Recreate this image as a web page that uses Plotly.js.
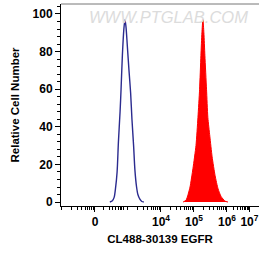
<!DOCTYPE html>
<html><head><meta charset="utf-8">
<script src="https://cdn.plot.ly/plotly-3.0.1.min.js"></script>
<style>html,body{margin:0;padding:0;background:#fff}#c{width:259px;height:260px}</style>
</head><body><div id="c"></div>
<script>
// Display units: 0 -> 0, one decade ≈ 1 unit (biexponential-like scale)
const blueX = [0.45,0.52,0.58,0.62,0.67,0.71,0.76,0.79,0.83,0.88,0.91,0.94,0.98,1.03,1.08,1.12,1.17,1.21,1.26,1.30,1.36,1.42,1.48];
const blueY = [0,0.5,2.5,7,16,32,48,60,78,93,97,93,83,70,58,44,30,17,8,4,1.5,0.3,0];
const redX = [2.67,2.76,2.82,2.88,2.97,3.06,3.12,3.17,3.21,3.24,3.27,3.30,3.33,3.38,3.42,3.48,3.55,3.64,3.73,3.82,3.94,4.03];
const redY = [0,1,4,8,18,30,45,60,78,90,97,90,78,60,45,35,24,14,7,3,0.5,0];
const tickVals = [0,2,3,4,4.68];
const tickText = ['0','10<sup>4</sup>','10<sup>5</sup>','10<sup>6</sup>','10<sup>7</sup>'];
const yTicks = [0,20,40,60,80,100];

const minor = [];
for (let m=2;m<=9;m++){ minor.push(-1+Math.log10(m)); minor.push(Math.log10(m)*0.9); minor.push(1+Math.log10(m)); minor.push(2+Math.log10(m)); minor.push(3+Math.log10(m)); minor.push(4+Math.log10(m)*0.68); }
minor.push(-1,1);

const font = 'Liberation Sans, Arial, sans-serif';
const traces = [
  {x: redX, y: redY, type:'scatter', mode:'lines', line:{color:'#ff0000', width:1, shape:'spline', smoothing:0.6}, fill:'tozeroy', fillcolor:'#ff0000', hoverinfo:'skip'},
  {x: blueX, y: blueY, type:'scatter', mode:'lines', line:{color:'#2b2b8f', width:1.4, shape:'spline', smoothing:0.8}, hoverinfo:'skip'},
  {x: [0], y: [0], xaxis:'x2', type:'scatter', mode:'markers', marker:{opacity:0}, hoverinfo:'skip'}
];
const layout = {
  width:259, height:260,
  margin:{l:61, r:0, t:4, b:54},
  paper_bgcolor:'#fff', plot_bgcolor:'#fff',
  showlegend:false,
  font:{family:font, color:'#000'},
  xaxis:{range:[-1.03,4.97], tickmode:'array', tickvals:tickVals, ticktext:tickText,
    ticks:'outside', ticklen:5, tickwidth:1, tickcolor:'#000', ticklabeloverflow:'allow',
    showline:true, linecolor:'#000', linewidth:1, showgrid:false, zeroline:false,
    tickfont:{family:font, size:12, color:'#000', weight:'bold'},
    title:{text:'<b>CL488-30139 EGFR</b>', font:{family:font, size:11.5, color:'#000'}, standoff:6}},
  xaxis2:{range:[-1.03,4.97], overlaying:'x', side:'bottom', anchor:'y', tickmode:'array', tickvals:minor,
    ticks:'outside', ticklen:3, tickwidth:1, tickcolor:'#000', showticklabels:false, showgrid:false, zeroline:false, showline:false},
  yaxis:{range:[-2.1,105.3], tickmode:'array', tickvals:yTicks,
    ticks:'outside', ticklen:5, tickwidth:1, tickcolor:'#000',
    minor:{dtick:4, ticklen:3, ticks:'outside', tickcolor:'#000', showgrid:false},
    showline:true, linecolor:'#000', linewidth:1, showgrid:false, zeroline:false,
    tickfont:{family:font, size:12, color:'#000', weight:'bold'},
    title:{text:'<b>Relative Cell Number</b>', font:{family:font, size:11.5, color:'#000'}, standoff:10}},
  shapes:[{type:'line', xref:'paper', yref:'paper', x0:0, x1:1, y0:1, y1:1, line:{color:'#777', width:1}}],
  annotations:[{text:'<i>WWW.PTGLAB.COM</i>', xref:'paper', yref:'paper', x:0.13, y:0.99, xanchor:'left', yanchor:'top', showarrow:false,
    font:{family:font, size:16.5, color:'#dcdcdc'}}]
};
Plotly.newPlot('c', traces, layout, {staticPlot:true, displayModeBar:false});
</script></body></html>
